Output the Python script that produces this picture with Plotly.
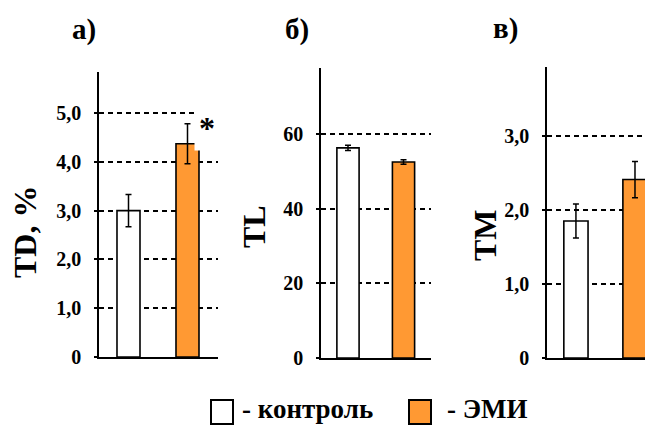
import plotly.graph_objects as go

W, H = 653, 425
OFF = 8  # page body margin shift

groups = ["контроль", "ЭМИ"]
colors = ["#FFFFFF", "#FF9933"]

td_mean = [3.0, 4.37]
td_err = [0.33, 0.41]
tl_mean = [56.3, 52.5]
tl_err = [0.7, 0.6]
tm_mean = [1.85, 2.41]
tm_err = [0.23, 0.245]

td_ticks = [0, 1, 2, 3, 4, 5]
td_ticktext = ["0", "1,0", "2,0", "3,0", "4,0", "5,0"]
tl_ticks = [0, 20, 40, 60]
tl_ticktext = ["0", "20", "40", "60"]
tm_ticks = [0, 1, 2, 3]
tm_ticktext = ["0", "1,0", "2,0", "3,0"]

panel_titles = ["а)", "б)", "в)"]
y_titles = ["TD, %", "TL", "TM"]

FONT = "Liberation Serif, Times New Roman, serif"

def px(x):
    return (x - OFF) / W

def py(y):
    return 1 - (y - OFF) / H

fig = go.Figure()

panels = [
    dict(mean=td_mean, err=td_err, ticks=td_ticks, tt=td_ticktext,
         xd=[px(99), px(218)], yd=[py(357), py(72)], yr=[0, 5.84],
         xr=[-0.5, 1.517], bw=0.39),
    dict(mean=tl_mean, err=tl_err, ticks=tl_ticks, tt=tl_ticktext,
         xd=[px(321), px(431)], yd=[py(358), py(68)], yr=[0, 77.7],
         xr=[-0.486, 1.495], bw=0.4),
    dict(mean=tm_mean, err=tm_err, ticks=tm_ticks, tt=tm_ticktext,
         xd=[px(547), px(653)], yd=[py(358), py(67)], yr=[0, 3.93],
         xr=[-0.49, 1.305], bw=0.41),
]

layout = dict(
    width=W, height=H, margin=dict(l=0, r=0, t=0, b=0, autoexpand=False),
    paper_bgcolor="white", plot_bgcolor="white", showlegend=False,
    font=dict(family=FONT, color="black"),
)

for i, p in enumerate(panels):
    sfx = "" if i == 0 else str(i + 1)
    fig.add_trace(go.Bar(
        x=groups, y=p["mean"], width=p["bw"],
        marker=dict(color=colors, line=dict(color="black", width=1.6)),
        error_y=dict(type="data", array=p["err"], visible=True,
                     color="black", thickness=1.5, width=3),
        xaxis="x" + sfx, yaxis="y" + sfx,
    ))
    layout["xaxis" + sfx] = dict(
        domain=p["xd"], anchor="y" + sfx, type="category", range=p["xr"],
        showline=True, linecolor="black", linewidth=2, showticklabels=False,
        ticks="", showgrid=False, zeroline=False, fixedrange=True,
        automargin=False,
    )
    layout["yaxis" + sfx] = dict(
        domain=p["yd"], anchor="x" + sfx, range=p["yr"],
        tickvals=p["ticks"], ticktext=p["tt"],
        tickfont=dict(family=FONT, size=20, color="black", weight="bold"),
        showline=True, linecolor="black", linewidth=1.5,
        ticks="outside", ticklen=3, tickcolor="black", tickwidth=1.5,
        ticklabelstandoff=9, automargin=False,
        showgrid=True, gridcolor="black", gridwidth=2.2, griddash="5px,4px",
        zeroline=False, fixedrange=True,
    )

fig.update_layout(**layout)

# panel titles
for t, (x, y) in zip(panel_titles, [(84, 29), (297, 30), (505, 28)]):
    fig.add_annotation(text=t, x=px(x), y=py(y), xref="paper", yref="paper",
                       xanchor="center", yanchor="middle", showarrow=False,
                       font=dict(family=FONT, size=29, weight="bold"))

# y titles
for t, (x, y) in zip(y_titles, [(25, 232), (254, 227), (485, 235)]):
    fig.add_annotation(text=t, x=px(x), y=py(y), xref="paper", yref="paper",
                       xanchor="center", yanchor="middle", showarrow=False,
                       textangle=-90,
                       font=dict(family=FONT, size=32, weight="bold"))

# significance asterisk
fig.add_annotation(text="*", x=px(207), y=py(128), xref="paper", yref="paper",
                   xanchor="center", yanchor="middle", showarrow=False,
                   bgcolor="white", borderpad=4,
                   font=dict(family=FONT, size=32, weight="bold"))

# legend
fig.add_shape(type="rect", xref="paper", yref="paper",
              x0=px(211), x1=px(233), y0=py(424), y1=py(400),
              fillcolor=colors[0], line=dict(color="black", width=2))
fig.add_shape(type="rect", xref="paper", yref="paper",
              x0=px(409), x1=px(431), y0=py(424), y1=py(400),
              fillcolor=colors[1], line=dict(color="black", width=2))
fig.add_annotation(text="- " + groups[0], x=px(240), y=py(409), xref="paper", yref="paper",
                   xanchor="left", yanchor="middle", showarrow=False,
                   font=dict(family=FONT, size=27, weight="bold"))
fig.add_annotation(text="- " + groups[1], x=px(445), y=py(409), xref="paper", yref="paper",
                   xanchor="left", yanchor="middle", showarrow=False,
                   font=dict(family=FONT, size=27, weight="bold"))

fig.write_html("out.html")
